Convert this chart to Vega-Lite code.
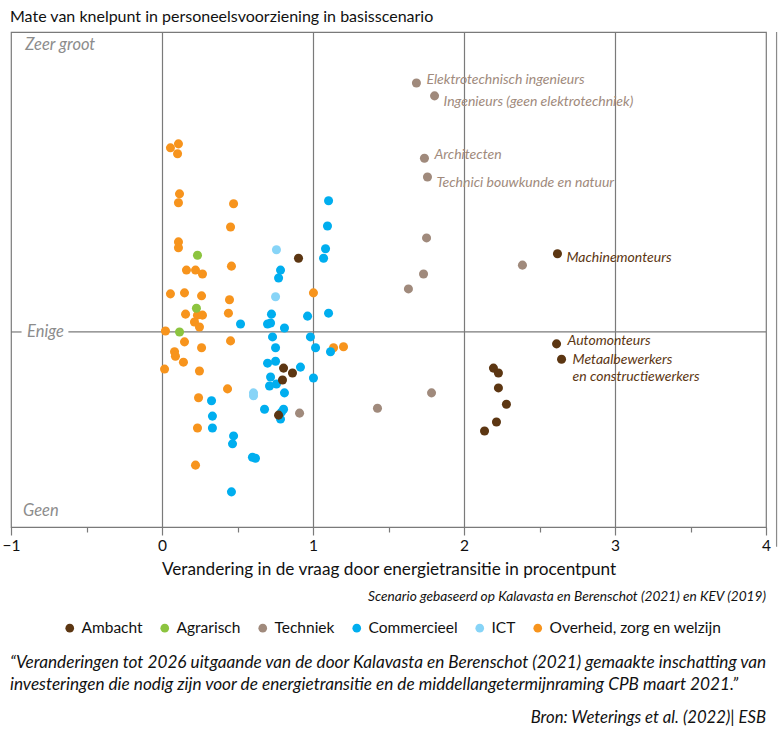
{
  "$schema": "https://vega.github.io/schema/vega-lite/v6.json",
  "width": 755,
  "height": 495,
  "autosize": {"type": "none"},
  "padding": {"left": 11, "top": 32, "right": 14, "bottom": 206},
  "background": "white",
  "title": {"text": "Mate van knelpunt in personeelsvoorziening in basisscenario", "anchor": "start", "frame": "group", "fontSize": 16, "fontWeight": "normal", "font": "Lato", "color": "#111111", "offset": 6, "dx": -1},
  "config": {"view": {"stroke": "#7a7a7a", "strokeWidth": 1.2}, "font": "Lato"},
  "data": {"values": [
    {"g": "Overheid, zorg en welzijn", "x": 0.056, "y": 7.66},
    {"g": "Overheid, zorg en welzijn", "x": 0.109, "y": 7.74},
    {"g": "Overheid, zorg en welzijn", "x": 0.103, "y": 7.54},
    {"g": "Overheid, zorg en welzijn", "x": 0.116, "y": 6.73},
    {"g": "Overheid, zorg en welzijn", "x": 0.109, "y": 6.55},
    {"g": "Overheid, zorg en welzijn", "x": 0.474, "y": 6.53},
    {"g": "Overheid, zorg en welzijn", "x": 0.454, "y": 6.06},
    {"g": "Overheid, zorg en welzijn", "x": 0.109, "y": 5.76},
    {"g": "Overheid, zorg en welzijn", "x": 0.109, "y": 5.64},
    {"g": "Overheid, zorg en welzijn", "x": 0.162, "y": 5.19},
    {"g": "Overheid, zorg en welzijn", "x": 0.222, "y": 5.19},
    {"g": "Overheid, zorg en welzijn", "x": 0.268, "y": 5.11},
    {"g": "Overheid, zorg en welzijn", "x": 0.46, "y": 5.27},
    {"g": "Overheid, zorg en welzijn", "x": 0.056, "y": 4.71},
    {"g": "Overheid, zorg en welzijn", "x": 0.149, "y": 4.73},
    {"g": "Overheid, zorg en welzijn", "x": 0.262, "y": 4.67},
    {"g": "Overheid, zorg en welzijn", "x": 1.003, "y": 4.73},
    {"g": "Overheid, zorg en welzijn", "x": 0.447, "y": 4.59},
    {"g": "Overheid, zorg en welzijn", "x": 0.44, "y": 4.32},
    {"g": "Overheid, zorg en welzijn", "x": 0.156, "y": 4.3},
    {"g": "Overheid, zorg en welzijn", "x": 0.235, "y": 4.28},
    {"g": "Overheid, zorg en welzijn", "x": 0.268, "y": 4.28},
    {"g": "Overheid, zorg en welzijn", "x": 0.215, "y": 4.14},
    {"g": "Overheid, zorg en welzijn", "x": 0.248, "y": 4.04},
    {"g": "Overheid, zorg en welzijn", "x": 0.023, "y": 3.96},
    {"g": "Overheid, zorg en welzijn", "x": 0.149, "y": 3.74},
    {"g": "Overheid, zorg en welzijn", "x": 0.262, "y": 3.62},
    {"g": "Overheid, zorg en welzijn", "x": 0.454, "y": 3.76},
    {"g": "Overheid, zorg en welzijn", "x": 1.136, "y": 3.62},
    {"g": "Overheid, zorg en welzijn", "x": 1.202, "y": 3.64},
    {"g": "Overheid, zorg en welzijn", "x": 0.083, "y": 3.54},
    {"g": "Overheid, zorg en welzijn", "x": 0.089, "y": 3.45},
    {"g": "Overheid, zorg en welzijn", "x": 0.142, "y": 3.33},
    {"g": "Overheid, zorg en welzijn", "x": 0.017, "y": 3.19},
    {"g": "Overheid, zorg en welzijn", "x": 0.248, "y": 3.15},
    {"g": "Overheid, zorg en welzijn", "x": 0.434, "y": 2.79},
    {"g": "Overheid, zorg en welzijn", "x": 0.242, "y": 2.61},
    {"g": "Overheid, zorg en welzijn", "x": 0.235, "y": 2.0},
    {"g": "Overheid, zorg en welzijn", "x": 0.222, "y": 1.25},
    {"g": "Agrarisch", "x": 0.235, "y": 5.49},
    {"g": "Agrarisch", "x": 0.228, "y": 4.42},
    {"g": "Agrarisch", "x": 0.116, "y": 3.94},
    {"g": "ICT", "x": 0.758, "y": 5.6},
    {"g": "ICT", "x": 0.752, "y": 4.65},
    {"g": "ICT", "x": 0.606, "y": 2.71},
    {"g": "ICT", "x": 0.606, "y": 2.65},
    {"g": "Commercieel", "x": 1.103, "y": 6.59},
    {"g": "Commercieel", "x": 1.096, "y": 6.08},
    {"g": "Commercieel", "x": 1.083, "y": 5.62},
    {"g": "Commercieel", "x": 1.07, "y": 5.43},
    {"g": "Commercieel", "x": 0.785, "y": 5.19},
    {"g": "Commercieel", "x": 0.772, "y": 5.03},
    {"g": "Commercieel", "x": 1.103, "y": 4.32},
    {"g": "Commercieel", "x": 0.964, "y": 4.26},
    {"g": "Commercieel", "x": 0.725, "y": 4.3},
    {"g": "Commercieel", "x": 0.52, "y": 4.1},
    {"g": "Commercieel", "x": 0.699, "y": 4.1},
    {"g": "Commercieel", "x": 0.719, "y": 4.12},
    {"g": "Commercieel", "x": 0.811, "y": 4.02},
    {"g": "Commercieel", "x": 0.732, "y": 3.84},
    {"g": "Commercieel", "x": 0.752, "y": 3.62},
    {"g": "Commercieel", "x": 0.983, "y": 3.84},
    {"g": "Commercieel", "x": 1.017, "y": 3.62},
    {"g": "Commercieel", "x": 1.116, "y": 3.54},
    {"g": "Commercieel", "x": 0.699, "y": 3.31},
    {"g": "Commercieel", "x": 0.752, "y": 3.35},
    {"g": "Commercieel", "x": 0.917, "y": 3.23},
    {"g": "Commercieel", "x": 0.719, "y": 3.03},
    {"g": "Commercieel", "x": 0.712, "y": 2.85},
    {"g": "Commercieel", "x": 0.758, "y": 2.89},
    {"g": "Commercieel", "x": 1.003, "y": 3.01},
    {"g": "Commercieel", "x": 0.811, "y": 2.71},
    {"g": "Commercieel", "x": 0.328, "y": 2.55},
    {"g": "Commercieel", "x": 0.679, "y": 2.38},
    {"g": "Commercieel", "x": 0.805, "y": 2.38},
    {"g": "Commercieel", "x": 0.791, "y": 2.32},
    {"g": "Commercieel", "x": 0.785, "y": 2.18},
    {"g": "Commercieel", "x": 0.334, "y": 2.24},
    {"g": "Commercieel", "x": 0.334, "y": 2.0},
    {"g": "Commercieel", "x": 0.474, "y": 1.84},
    {"g": "Commercieel", "x": 0.467, "y": 1.68},
    {"g": "Commercieel", "x": 0.599, "y": 1.41},
    {"g": "Commercieel", "x": 0.619, "y": 1.39},
    {"g": "Commercieel", "x": 0.46, "y": 0.71},
    {"g": "Ambacht", "x": 0.904, "y": 5.43},
    {"g": "Ambacht", "x": 0.805, "y": 3.21},
    {"g": "Ambacht", "x": 0.864, "y": 3.11},
    {"g": "Ambacht", "x": 0.798, "y": 2.97},
    {"g": "Ambacht", "x": 0.772, "y": 2.26},
    {"g": "Ambacht", "x": 2.619, "y": 5.52, "label": "Machinemonteurs"},
    {"g": "Ambacht", "x": 2.613, "y": 3.7, "label": "Automonteurs"},
    {"g": "Ambacht", "x": 2.646, "y": 3.39, "label": "Metaalbewerkers"},
    {"g": "Ambacht", "x": 2.195, "y": 3.21},
    {"g": "Ambacht", "x": 2.228, "y": 3.11},
    {"g": "Ambacht", "x": 2.228, "y": 2.81},
    {"g": "Ambacht", "x": 2.281, "y": 2.48},
    {"g": "Ambacht", "x": 2.215, "y": 2.12},
    {"g": "Ambacht", "x": 2.136, "y": 1.94},
    {"g": "Techniek", "x": 1.685, "y": 8.97, "label": "Elektrotechnisch ingenieurs"},
    {"g": "Techniek", "x": 1.805, "y": 8.71, "label": "Ingenieurs (geen elektrotechniek)"},
    {"g": "Techniek", "x": 1.738, "y": 7.45, "label": "Architecten"},
    {"g": "Techniek", "x": 1.758, "y": 7.07, "label": "Technici bouwkunde en natuur"},
    {"g": "Techniek", "x": 1.752, "y": 5.84},
    {"g": "Techniek", "x": 2.387, "y": 5.29},
    {"g": "Techniek", "x": 1.732, "y": 5.11},
    {"g": "Techniek", "x": 1.632, "y": 4.81},
    {"g": "Techniek", "x": 1.785, "y": 2.71},
    {"g": "Techniek", "x": 1.427, "y": 2.4},
    {"g": "Techniek", "x": 0.911, "y": 2.3}
  ]},
  "layer": [
    {"data": {"values": [{}]}, "mark": {"type": "rule", "color": "#7a7a7a", "strokeWidth": 1.2},
      "encoding": {"x": {"datum": -1, "type": "quantitative", "axis": {"title": "Verandering in de vraag door energietransitie in procentpunt"}, "scale": {"domain": [-1, 4], "nice": false, "zero": false}}, "x2": {"datum": -0.93},
        "y": {"datum": 3.94, "type": "quantitative", "axis": null, "scale": {"domain": [0, 10], "nice": false, "zero": false}}}},
    {"data": {"values": [{}]}, "mark": {"type": "rule", "color": "#7a7a7a", "strokeWidth": 1.2},
      "encoding": {"x": {"datum": -0.62, "type": "quantitative", "axis": {"title": "Verandering in de vraag door energietransitie in procentpunt"}, "scale": {"domain": [-1, 4], "nice": false, "zero": false}}, "x2": {"datum": 4},
        "y": {"datum": 3.94, "type": "quantitative", "axis": null, "scale": {"domain": [0, 10], "nice": false, "zero": false}}}},
    {"data": {"values": [{}]}, "mark": {"type": "rule", "color": "#8a8a8a", "strokeWidth": 1.2},
      "encoding": {"x": {"datum": 4.07, "type": "quantitative", "axis": {"title": "Verandering in de vraag door energietransitie in procentpunt"}, "scale": {"domain": [-1, 4], "nice": false, "zero": false}},
        "y": {"datum": 10, "type": "quantitative", "axis": null, "scale": {"domain": [0, 10], "nice": false, "zero": false}}, "y2": {"datum": -0.4}}},
    {"data": {"values": [{}]}, "mark": {"type": "text", "text": "Zeer groot", "align": "left", "baseline": "middle", "fontStyle": "italic", "fontSize": 16.5, "color": "#8c8c8c"},
      "encoding": {"x": {"datum": -0.905, "type": "quantitative", "axis": {"title": "Verandering in de vraag door energietransitie in procentpunt"}, "scale": {"domain": [-1, 4], "nice": false, "zero": false}},
        "y": {"datum": 9.74, "type": "quantitative", "axis": null, "scale": {"domain": [0, 10], "nice": false, "zero": false}}}},
    {"data": {"values": [{}]}, "mark": {"type": "text", "text": "Enige", "align": "left", "baseline": "middle", "fontStyle": "italic", "fontSize": 16.5, "color": "#8c8c8c"},
      "encoding": {"x": {"datum": -0.894, "type": "quantitative", "axis": {"title": "Verandering in de vraag door energietransitie in procentpunt"}, "scale": {"domain": [-1, 4], "nice": false, "zero": false}},
        "y": {"datum": 3.94, "type": "quantitative", "axis": null, "scale": {"domain": [0, 10], "nice": false, "zero": false}}}},
    {"data": {"values": [{}]}, "mark": {"type": "text", "text": "Geen", "align": "left", "baseline": "middle", "fontStyle": "italic", "fontSize": 16.5, "color": "#8c8c8c"},
      "encoding": {"x": {"datum": -0.92, "type": "quantitative", "axis": {"title": "Verandering in de vraag door energietransitie in procentpunt"}, "scale": {"domain": [-1, 4], "nice": false, "zero": false}},
        "y": {"datum": 0.32, "type": "quantitative", "axis": null, "scale": {"domain": [0, 10], "nice": false, "zero": false}}}},
    {"mark": {"type": "circle", "size": 82, "opacity": 1},
      "encoding": {
        "x": {"field": "x", "type": "quantitative", "scale": {"domain": [-1, 4], "nice": false, "zero": false},
          "axis": {"values": [-1, -0.5, 0, 0.5, 1, 1.5, 2, 2.5, 3, 3.5, 4],
            "labelExpr": "datum.value % 1 === 0 ? format(datum.value, 'd') : ''",
            "labelFlush": false,
            "tickSize": {"condition": {"test": "datum.value % 1 === 0", "value": 8}, "value": 5},
            "tickColor": "#7a7a7a", "tickWidth": 1.2,
            "domainColor": "#7a7a7a", "domainWidth": 1.2,
            "grid": true, "gridColor": "#7a7a7a", "gridWidth": 1.2,
            "gridOpacity": {"condition": {"test": "datum.value % 1 === 0 && datum.value > -1 && datum.value < 4", "value": 1}, "value": 0},
            "labelFontSize": 15.5, "labelColor": "#111111", "labelPadding": 3, "labelFont": "Lato",
            "title": "Verandering in de vraag door energietransitie in procentpunt",
            "titleFontSize": 17.2, "titleFontWeight": "normal", "titleColor": "#111111", "titlePadding": 7, "titleFont": "Lato"}},
        "y": {"field": "y", "type": "quantitative", "scale": {"domain": [0, 10], "nice": false, "zero": false}, "axis": null},
        "color": {"field": "g", "type": "nominal",
          "scale": {"domain": ["Ambacht", "Agrarisch", "Techniek", "Commercieel", "ICT", "Overheid, zorg en welzijn"],
                    "range": ["#5c3612", "#8cc43f", "#a08a7c", "#00aeef", "#87d4f7", "#f7941d"]},
          "legend": {"orient": "none", "legendX": 51, "legendY": 588, "direction": "horizontal", "columns": 6, "title": null,
            "padding": 0, "symbolType": "circle", "symbolSize": 75, "symbolStrokeWidth": 0, "labelFontSize": 15.5, "labelColor": "#111111",
            "labelFont": "Lato", "labelOffset": 4, "columnPadding": 14, "labelLimit": 300}}}},
    {"transform": [{"filter": {"field": "label", "oneOf": ["Elektrotechnisch ingenieurs", "Architecten"]}}],
      "mark": {"type": "text", "align": "left", "baseline": "middle", "dx": 10, "dy": -3, "fontStyle": "italic", "fontSize": 14, "color": "#a08a7c"},
      "encoding": {"x": {"field": "x", "type": "quantitative", "axis": {"title": "Verandering in de vraag door energietransitie in procentpunt"}, "scale": {"domain": [-1, 4], "nice": false, "zero": false}},
        "y": {"field": "y", "type": "quantitative", "axis": null, "scale": {"domain": [0, 10], "nice": false, "zero": false}}, "text": {"field": "label"}}},
    {"transform": [{"filter": {"field": "label", "oneOf": ["Ingenieurs (geen elektrotechniek)", "Technici bouwkunde en natuur"]}}],
      "mark": {"type": "text", "align": "left", "baseline": "middle", "dx": 9, "dy": 6, "fontStyle": "italic", "fontSize": 14, "color": "#a08a7c"},
      "encoding": {"x": {"field": "x", "type": "quantitative", "axis": {"title": "Verandering in de vraag door energietransitie in procentpunt"}, "scale": {"domain": [-1, 4], "nice": false, "zero": false}},
        "y": {"field": "y", "type": "quantitative", "axis": null, "scale": {"domain": [0, 10], "nice": false, "zero": false}}, "text": {"field": "label"}}},
    {"transform": [{"filter": {"field": "label", "equal": "Machinemonteurs"}}],
      "mark": {"type": "text", "align": "left", "baseline": "middle", "dx": 9, "dy": 4, "fontStyle": "italic", "fontSize": 14, "color": "#5c3612"},
      "encoding": {"x": {"field": "x", "type": "quantitative", "axis": {"title": "Verandering in de vraag door energietransitie in procentpunt"}, "scale": {"domain": [-1, 4], "nice": false, "zero": false}},
        "y": {"field": "y", "type": "quantitative", "axis": null, "scale": {"domain": [0, 10], "nice": false, "zero": false}}, "text": {"field": "label"}}},
    {"transform": [{"filter": {"field": "label", "equal": "Automonteurs"}}],
      "mark": {"type": "text", "align": "left", "baseline": "middle", "dx": 11, "dy": -3, "fontStyle": "italic", "fontSize": 14, "color": "#5c3612"},
      "encoding": {"x": {"field": "x", "type": "quantitative", "axis": {"title": "Verandering in de vraag door energietransitie in procentpunt"}, "scale": {"domain": [-1, 4], "nice": false, "zero": false}},
        "y": {"field": "y", "type": "quantitative", "axis": null, "scale": {"domain": [0, 10], "nice": false, "zero": false}}, "text": {"field": "label"}}},
    {"transform": [{"filter": {"field": "label", "equal": "Metaalbewerkers"}}],
      "mark": {"type": "text", "align": "left", "baseline": "top", "dx": 11, "dy": -6, "lineHeight": 17, "fontStyle": "italic", "fontSize": 14, "color": "#5c3612",
        "text": ["Metaalbewerkers", "en constructiewerkers"]},
      "encoding": {"x": {"field": "x", "type": "quantitative", "axis": {"title": "Verandering in de vraag door energietransitie in procentpunt"}, "scale": {"domain": [-1, 4], "nice": false, "zero": false}},
        "y": {"field": "y", "type": "quantitative", "axis": null, "scale": {"domain": [0, 10], "nice": false, "zero": false}}}},
    {"data": {"values": [{}]}, "mark": {"type": "text", "text": "Scenario gebaseerd op Kalavasta en Berenschot (2021) en KEV (2019)", "align": "right", "baseline": "middle", "fontStyle": "italic", "fontSize": 13.7, "color": "#111111"},
      "encoding": {"x": {"datum": 4, "type": "quantitative", "axis": {"title": "Verandering in de vraag door energietransitie in procentpunt"}, "scale": {"domain": [-1, 4], "nice": false, "zero": false}},
        "y": {"datum": -1.414, "type": "quantitative", "axis": null, "scale": {"domain": [0, 10], "nice": false, "zero": false}}}},
    {"data": {"values": [{}]}, "mark": {"type": "text", "text": ["“Veranderingen tot 2026 uitgaande van de door Kalavasta en Berenschot (2021) gemaakte inschatting van", "investeringen die nodig zijn voor de energietransitie en de middellangetermijnraming CPB maart 2021.”"], "align": "left", "baseline": "top", "lineHeight": 22, "dx": -1, "dy": -1, "fontStyle": "italic", "fontSize": 17.2, "color": "#111111"},
      "encoding": {"x": {"datum": -1, "type": "quantitative", "axis": {"title": "Verandering in de vraag door energietransitie in procentpunt"}, "scale": {"domain": [-1, 4], "nice": false, "zero": false}},
        "y": {"datum": -2.578, "type": "quantitative", "axis": null, "scale": {"domain": [0, 10], "nice": false, "zero": false}}}},
    {"data": {"values": [{}]}, "mark": {"type": "text", "text": "Bron: Weterings et al. (2022)| ESB", "align": "right", "baseline": "middle", "fontStyle": "italic", "fontSize": 16.7, "color": "#111111"},
      "encoding": {"x": {"datum": 4, "type": "quantitative", "axis": {"title": "Verandering in de vraag door energietransitie in procentpunt"}, "scale": {"domain": [-1, 4], "nice": false, "zero": false}},
        "y": {"datum": -3.859, "type": "quantitative", "axis": null, "scale": {"domain": [0, 10], "nice": false, "zero": false}}}}
  ]
}
